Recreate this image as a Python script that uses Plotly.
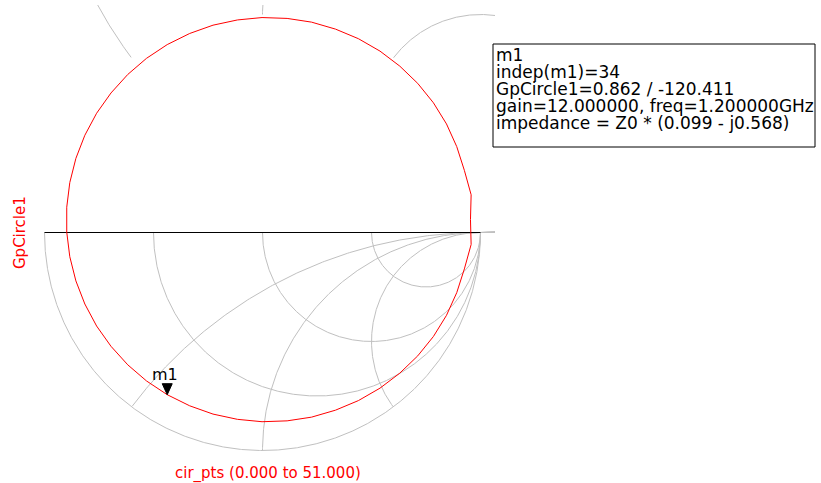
import numpy as np
import plotly.graph_objects as go

# ---------------- data ----------------
gp_re = [0.954, 0.957, 0.926, 0.891, 0.844, 0.784, 0.712, 0.630, 0.539, 0.440,
         0.335, 0.225, 0.113, -0.002, -0.115, -0.227, -0.334, -0.437, -0.532, -0.618,
         -0.695, -0.761, -0.815, -0.856, -0.884, -0.898, -0.898, -0.884, -0.856, -0.815,
         -0.761, -0.695, -0.618, -0.532, -0.437, -0.334, -0.227, -0.115, -0.002, 0.113,
         0.225, 0.335, 0.440, 0.539, 0.630, 0.712, 0.784, 0.844, 0.891, 0.926,
         0.957, 0.954]
gp_im = [0.059, 0.173, 0.285, 0.394, 0.498, 0.595, 0.684, 0.763, 0.832, 0.889,
         0.933, 0.965, 0.982, 0.986, 0.975, 0.951, 0.913, 0.862, 0.799, 0.725,
         0.640, 0.547, 0.446, 0.340, 0.229, 0.116, 0.002, -0.111, -0.222, -0.328,
         -0.429, -0.522, -0.607, -0.681, -0.744, -0.795, -0.833, -0.857, -0.868, -0.864,
         -0.847, -0.815, -0.771, -0.714, -0.645, -0.566, -0.477, -0.380, -0.276, -0.167,
         -0.055, 0.059]
m1_index = 34
resistance_circles = [1/3, 1.0, 3.0]
reactance_circles = [0.5, 1.0, 2.0]
marker_lines = ["m1",
                "indep(m1)=34",
                "GpCircle1=0.862 / -120.411",
                "gain=12.000000, freq=1.200000GHz",
                "impedance = Z0 * (0.099 - j0.568)"]
y_label = "GpCircle1"
x_label = "cir_pts (0.000 to 51.000)"

# ---------------- layout constants ----------------
W, H = 821, 483
CX, CY, R = 262.5, 232.5, 218.0     # smith chart centre / radius in px
CLIP_R, CLIP_T = 495.0, 5.0
GRID = "#c0c0c0"
RED = "#ff0000"
FONT = "DejaVu Sans"

def px(x):
    return x / W

def py(y):
    return 1 - y / H

fig = go.Figure()

t = np.linspace(0, 2 * np.pi, 1441)

def add_grid(xs, ys, color=GRID):
    fig.add_trace(go.Scatter(x=xs, y=ys, mode="lines", line=dict(color=color, width=1),
                             hoverinfo="skip", showlegend=False, connectgaps=False))

# outer circle, lower half
ox, oy = np.cos(t), np.sin(t)
m = oy <= 1e-9
add_grid(np.where(m, ox, np.nan), np.where(m, oy, np.nan))

# resistance circles, lower half
for r in resistance_circles:
    c, rad = r / (1 + r), 1 / (1 + r)
    xs, ys = c + rad * np.cos(t), rad * np.sin(t)
    m = ys <= 1e-9
    add_grid(np.where(m, xs, np.nan), np.where(m, ys, np.nan))

# reactance circles: lower half inside, upper half outside
for xv in reactance_circles:
    rad = 1 / xv
    xs = 1 + rad * np.cos(t)
    ys = -rad + rad * np.sin(t)
    m = np.hypot(xs, ys) <= 1 + 1e-9
    add_grid(np.where(m, xs, np.nan), np.where(m, ys, np.nan))
    ys2 = rad + rad * np.sin(t)
    m2 = (np.hypot(xs, ys2) >= 1 - 1e-9) & (ys2 >= -1e-9)
    add_grid(np.where(m2, xs, np.nan), np.where(m2, ys2, np.nan))

# real axis extension (grey) and axis (black)
add_grid([1.0, 1.5], [0.0, 0.0])
add_grid([-1.0, 1.0], [0.0, 0.0], color="#000000")

# Gp circle
fig.add_trace(go.Scatter(x=gp_re, y=gp_im, mode="lines", line=dict(color=RED, width=1),
                         name="GpCircle1", showlegend=False, hoverinfo="skip"))

mx, my = gp_re[m1_index], gp_im[m1_index]

# marker triangle (tip on the data point)
fig.add_shape(type="path", xref="x", yref="y", xsizemode="pixel", ysizemode="pixel",
              xanchor=mx, yanchor=my, path="M -5,11 L 5,11 L 0,0 Z",
              fillcolor="#000000", line=dict(color="#000000", width=1))
fig.add_annotation(x=mx, y=my, xref="x", yref="y", text="m1", showarrow=False,
                   yanchor="bottom", xanchor="center", yshift=9, xshift=-2,
                   font=dict(family=FONT, size=16, color="#000000"))

# marker readout box (text clipped to box via subplot)
box_l, box_r, box_t, box_b = 493.0, 815.0, 44.0, 147.0
line_y = [13, 30, 47, 64, 81]
fig.add_trace(go.Scatter(x=[3] * len(marker_lines), y=line_y, text=marker_lines,
                         mode="text", textposition="middle right", cliponaxis=True,
                         textfont=dict(family=FONT, size=17, color="#000000"),
                         xaxis="x2", yaxis="y2", showlegend=False, hoverinfo="skip"))
fig.add_shape(type="rect", xref="paper", yref="paper",
              x0=px(box_l), x1=px(box_r), y0=py(box_b), y1=py(box_t),
              line=dict(color="#000000", width=1), fillcolor="rgba(0,0,0,0)")

# axis labels
fig.add_annotation(x=px(20), y=py(233), xref="paper", yref="paper", text=y_label,
                   textangle=-90, showarrow=False, xanchor="center", yanchor="middle",
                   font=dict(family=FONT, size=15, color=RED))
fig.add_annotation(x=px(267.5), y=py(473), xref="paper", yref="paper", text=x_label,
                   showarrow=False, xanchor="center", yanchor="middle",
                   font=dict(family=FONT, size=15, color=RED))

fig.update_layout(
    width=W, height=H, autosize=False,
    margin=dict(l=0, r=0, t=0, b=0, pad=0),
    paper_bgcolor="white", plot_bgcolor="white",
    xaxis=dict(domain=[0, px(CLIP_R)], range=[(0 - CX) / R, (CLIP_R - CX) / R],
               visible=False, fixedrange=True),
    yaxis=dict(domain=[0, py(CLIP_T)], range=[-(H - CY) / R, (CY - CLIP_T) / R],
               visible=False, fixedrange=True),
    xaxis2=dict(domain=[px(box_l), px(box_r)], range=[0, box_r - box_l],
                visible=False, anchor="y2", fixedrange=True),
    yaxis2=dict(domain=[py(box_b), py(box_t)], range=[box_b - box_t, 0],
                visible=False, anchor="x2", fixedrange=True),
    showlegend=False,
)

fig.write_html("out.html")
